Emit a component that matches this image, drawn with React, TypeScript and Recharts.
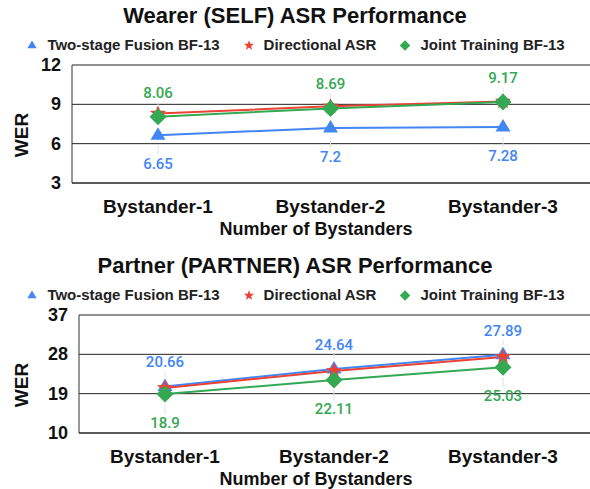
import { LineChart, Line, XAxis, YAxis, CartesianGrid, LabelList, Label } from "recharts"

const categories = ["Bystander-1", "Bystander-2", "Bystander-3"]
const seriesNames = ["Two-stage Fusion BF-13", "Directional ASR", "Joint Training BF-13"]

// Wearer (SELF)
const selfTwoStage = [6.65, 7.2, 7.28]
const selfDirectional = [8.3, 8.85, 9.22]
const selfJoint = [8.06, 8.69, 9.17]
const selfTicks = [3, 6, 9, 12]

// Partner (PARTNER)
const partnerTwoStage = [20.66, 24.64, 27.89]
const partnerDirectional = [20.3, 24.2, 27.4]
const partnerJoint = [18.9, 22.11, 25.03]
const partnerTicks = [10, 19, 28, 37]

const BLUE = "#4285F4"
const RED = "#EA4335"
const GREEN = "#34A853"
const FONT = "Arial, 'Liberation Sans', sans-serif"

type Shape = "triangle" | "star" | "diamond"

function markerPath(shape: Shape, cx: number, cy: number, s: number) {
    if (shape === "triangle") {
        return `M${cx},${cy - 8 * s} L${cx + 7.5 * s},${cy + 4.5 * s} L${cx - 7.5 * s},${cy + 4.5 * s} Z`
    }
    if (shape === "diamond") {
        const r = 8.5 * s
        return `M${cx},${cy - r} L${cx + r},${cy} L${cx},${cy + r} L${cx - r},${cy} Z`
    }
    // star
    const pts: string[] = []
    for (let i = 0; i < 10; i++) {
        const r = (i % 2 === 0 ? 8.5 : 3.6) * s
        const a = -Math.PI / 2 + (i * Math.PI) / 5
        pts.push(`${cx + r * Math.cos(a)},${cy + r * Math.sin(a)}`)
    }
    return `M${pts.join(" L")} Z`
}

const series = [
    { key: "twoStage", name: seriesNames[0], color: BLUE, shape: "triangle" as Shape },
    { key: "directional", name: seriesNames[1], color: RED, shape: "star" as Shape },
    { key: "joint", name: seriesNames[2], color: GREEN, shape: "diamond" as Shape },
]

const makeLabel = (color: string, place: "above" | "below") => (props: any) => {
    const { x, y, value, index } = props
    const ty = place === "above" ? y - 24 : y + 29
    const ly1 = place === "above" ? ty + 9 : ty - 9
    const ly2 = place === "above" ? y - 10 : y + 10
    return (
        <g key={`lbl-${index}`}>
            <line x1={x} x2={x} y1={ly1} y2={ly2} stroke="#e2e2e2" strokeWidth={1} />
            <text
                x={x}
                y={ty}
                textAnchor="middle"
                dominantBaseline="central"
                fill={color}
                fontSize={15}
                fontWeight={500}
                fontFamily="Roboto, sans-serif"
            >
                {value}
            </text>
        </g>
    )
}

function AsrChart({ title, twoStage, directional, joint, ticks, yWidth, height, axisH, blueLabel, greenLabel }: any) {
    const data = categories.map((c, i) => ({
        name: c,
        twoStage: twoStage[i],
        directional: directional[i],
        joint: joint[i],
    }))
    const plotBottom = height - axisH

    return (
        <div style={{ position: "relative", width: 590, height, fontFamily: FONT }}>
            <LineChart width={590} height={height} data={data} margin={{ top: 65, right: 0, bottom: 0, left: 0 }}>
                <CartesianGrid vertical={false} stroke="#222" />
                <XAxis
                    dataKey="name"
                    height={axisH}
                    padding={{ left: 86, right: 87 }}
                    axisLine={{ stroke: "#222" }}
                    tickLine={false}
                    interval={0}
                    tick={(p: any) => (
                        <text
                            x={p.x}
                            y={plotBottom + 23}
                            textAnchor="middle"
                            dominantBaseline="central"
                            fontSize={19}
                            fontWeight={700}
                            fontFamily={FONT}
                            fill="#111"
                        >
                            {p.payload.value}
                        </text>
                    )}
                >
                    <Label
                        content={() => (
                            <text
                                x={316}
                                y={plotBottom + 45.5}
                                textAnchor="middle"
                                dominantBaseline="central"
                                fontSize={18}
                                fontWeight={700}
                                fontFamily={FONT}
                                fill="#111"
                            >
                                Number of Bystanders
                            </text>
                        )}
                    />
                </XAxis>
                <YAxis
                    domain={[ticks[0], ticks[ticks.length - 1]]}
                    ticks={ticks}
                    width={yWidth}
                    interval={0}
                    axisLine={{ stroke: "#333" }}
                    tickLine={false}
                    tick={(p: any) => (
                        <text
                            x={yWidth - 11}
                            y={p.y}
                            textAnchor="end"
                            dominantBaseline="central"
                            fontSize={18}
                            fontWeight={700}
                            fontFamily={FONT}
                            fill="#111"
                        >
                            {p.payload.value}
                        </text>
                    )}
                >
                    <Label
                        content={() => (
                            <text
                                x={21}
                                y={135}
                                transform="rotate(-90 21 135)"
                                textAnchor="middle"
                                dominantBaseline="central"
                                fontSize={19}
                                fontWeight={700}
                                fontFamily={FONT}
                                fill="#111"
                            >
                                WER
                            </text>
                        )}
                    />
                </YAxis>
                {series.map((s) => (
                    <Line
                        key={s.key}
                        dataKey={s.key}
                        name={s.name}
                        stroke={s.color}
                        strokeWidth={2}
                        isAnimationActive={false}
                        activeDot={false}
                        dot={(p: any) => (
                            <path key={`${s.key}-dot-${p.index}`} d={markerPath(s.shape, p.cx, p.cy, 1)} fill={s.color} />
                        )}
                    >
                        {s.key === "twoStage" && <LabelList dataKey={s.key} content={makeLabel(BLUE, blueLabel)} />}
                        {s.key === "joint" && <LabelList dataKey={s.key} content={makeLabel(GREEN, greenLabel)} />}
                    </Line>
                ))}
            </LineChart>

            <div
                style={{
                    position: "absolute",
                    top: 3,
                    left: 0,
                    width: 590,
                    textAlign: "center",
                    fontSize: 22,
                    fontWeight: 700,
                    lineHeight: "26px",
                    color: "#111",
                }}
            >
                {title}
            </div>

            {/* Legend */}
            <div
                style={{
                    position: "absolute",
                    top: 36,
                    left: 0,
                    width: 590,
                    display: "flex",
                    justifyContent: "center",
                    gap: 22,
                    fontSize: 15,
                    fontWeight: 700,
                    lineHeight: "18px",
                    color: "#222",
                }}
            >
                {series.map((s) => (
                    <div key={s.key} style={{ display: "flex", alignItems: "center" }}>
                        <svg width={14} height={14} style={{ marginRight: 8 }}>
                            <path d={markerPath(s.shape, 7, 7.5, 0.62)} fill={s.color} />
                        </svg>
                        <span>{s.name}</span>
                    </div>
                ))}
            </div>
        </div>
    )
}

export default function App() {
    return (
        <div style={{ position: "absolute", left: 0, top: 0, width: 590, height: 489, background: "#fff" }}>
            <AsrChart
                title="Wearer (SELF) ASR Performance"
                twoStage={selfTwoStage}
                directional={selfDirectional}
                joint={selfJoint}
                ticks={selfTicks}
                yWidth={72}
                height={250}
                axisH={67}
                blueLabel="below"
                greenLabel="above"
            />
            <AsrChart
                title="Partner (PARTNER) ASR Performance"
                twoStage={partnerTwoStage}
                directional={partnerDirectional}
                joint={partnerJoint}
                ticks={partnerTicks}
                yWidth={79}
                height={239}
                axisH={56}
                blueLabel="above"
                greenLabel="below"
            />
        </div>
    )
}
